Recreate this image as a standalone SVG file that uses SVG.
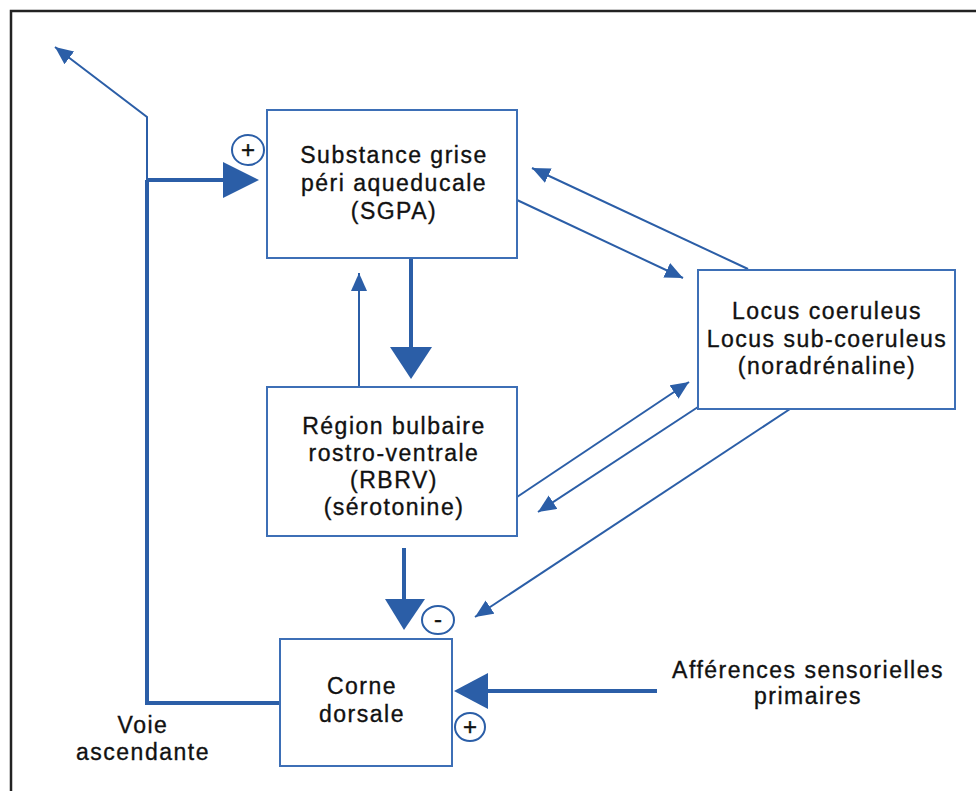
<svg xmlns="http://www.w3.org/2000/svg" width="976" height="791" viewBox="0 0 976 791">
<style>
.box{fill:#fff;stroke:#3d6fb6;stroke-width:2}
.lbl{font-family:"Liberation Sans",Arial,sans-serif;font-size:23px;letter-spacing:1.5px;fill:#111;stroke:#111;stroke-width:0.35;text-anchor:middle}
.thin{fill:none;stroke:#2b5ea7;stroke-width:2}
.thick{fill:none;stroke:#2b5ea7;stroke-width:4}
.head{fill:#2b5ea7}
.sign{fill:#fff;stroke:#2b5ea7;stroke-width:2}
.st{font-family:"Liberation Sans",Arial,sans-serif;font-size:24px;fill:#111;stroke:#111;stroke-width:0.4;text-anchor:middle}
</style>
<defs>
<marker id="ah" markerUnits="userSpaceOnUse" markerWidth="20" markerHeight="18" refX="18" refY="8" orient="auto">
<path d="M0,0 L18,8 L0,16 z" fill="#2b5ea7"/>
</marker>
</defs>
<rect width="976" height="791" fill="#fff"/>
<path d="M11,791 V11 H976" fill="none" stroke="#222" stroke-width="2.5"/>

<g id="connectors">
<path class="thin" d="M147,182 V117 L55,47" marker-end="url(#ah)"/>
<path class="thick" d="M147,180 V703 H280"/>
<path class="thick" d="M147,180 H226"/>
<polygon class="head" points="223,162 259,180 223,198"/>
<path class="thick" d="M411,258 V349"/>
<polygon class="head" points="390,347 432,347 411,379"/>
<path class="thin" d="M359,387 V273" marker-end="url(#ah)"/>
<path class="thin" d="M517,200 L683,278" marker-end="url(#ah)"/>
<path class="thin" d="M748,269 L532,168" marker-end="url(#ah)"/>
<path class="thin" d="M517,497 L689,382" marker-end="url(#ah)"/>
<path class="thin" d="M698,407 L538,512" marker-end="url(#ah)"/>
<path class="thin" d="M790,409 L475,617" marker-end="url(#ah)"/>
<path class="thick" d="M404,548 V601"/>
<polygon class="head" points="385,599 425,599 404,630"/>
<path class="thick" d="M657,691 H486"/>
<polygon class="head" points="488,673 488,709 454,691"/>
</g>

<g id="sgpa">
<rect class="box" x="267" y="110" width="250" height="148"/>
<text class="lbl" x="394" y="163">Substance grise</text>
<text class="lbl" x="394" y="191">péri aqueducale</text>
<text class="lbl" x="394" y="219">(SGPA)</text>
</g>

<g id="locus">
<rect class="box" x="698" y="270" width="257" height="139"/>
<text class="lbl" x="827" y="319">Locus coeruleus</text>
<text class="lbl" x="827" y="347">Locus sub-coeruleus</text>
<text class="lbl" x="827" y="374">(noradrénaline)</text>
</g>

<g id="rbrv">
<rect class="box" x="267" y="387" width="250" height="149"/>
<text class="lbl" x="394" y="434">Région bulbaire</text>
<text class="lbl" x="394" y="461">rostro-ventrale</text>
<text class="lbl" x="394" y="488">(RBRV)</text>
<text class="lbl" x="394" y="515">(sérotonine)</text>
</g>

<g id="corne">
<rect class="box" x="280" y="639" width="172" height="127"/>
<text class="lbl" x="362" y="694">Corne</text>
<text class="lbl" x="362" y="722">dorsale</text>
</g>

<g id="voie">
<text class="lbl" x="143" y="733">Voie</text>
<text class="lbl" x="143" y="760">ascendante</text>
</g>

<g id="afferences">
<text class="lbl" x="808" y="678">Afférences sensorielles</text>
<text class="lbl" x="808" y="704">primaires</text>
</g>

<g id="plus-sgpa">
<ellipse class="sign" cx="248" cy="150" rx="16" ry="15"/>
<text class="st" x="248" y="158">+</text>
</g>
<g id="minus-corne">
<ellipse class="sign" cx="438" cy="620" rx="16" ry="14"/>
<text class="st" x="438" y="627">-</text>
</g>
<g id="plus-corne">
<ellipse class="sign" cx="470" cy="727" rx="15" ry="14"/>
<text class="st" x="470" y="735">+</text>
</g>
</svg>
